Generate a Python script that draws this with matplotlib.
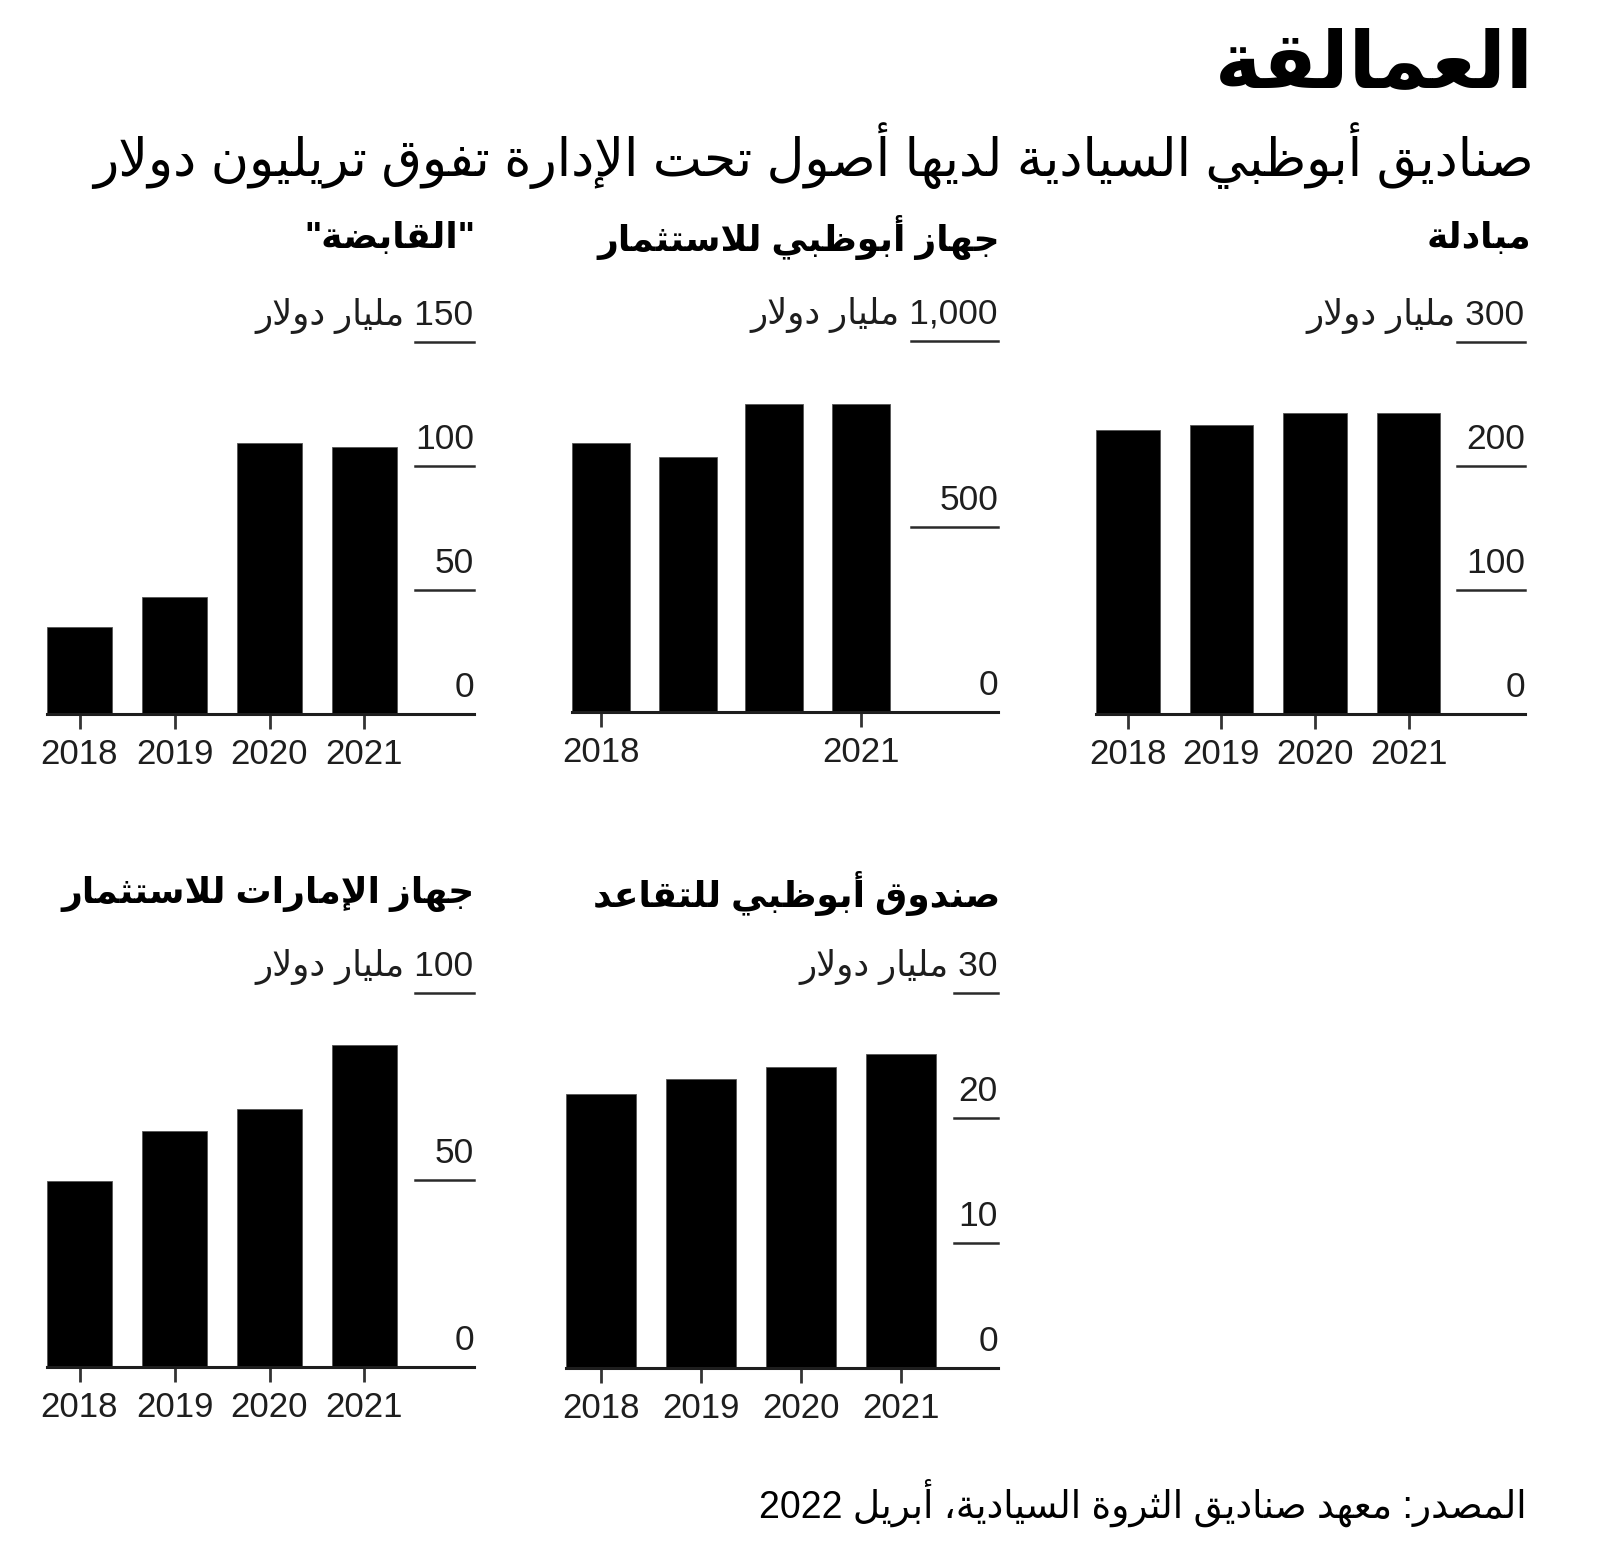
import re
import matplotlib
matplotlib.use("Agg")
import matplotlib.pyplot as plt

plt.rcParams['font.family'] = ['Liberation Sans', 'DejaVu Sans']

# --- data ---
years = ["2018", "2019", "2020", "2021"]

mubadala = [229, 233, 243, 243]
adia = [724, 686, 829, 829]
adq = [35.2, 47.3, 109.2, 107.6]
eia = [49.8, 63.2, 69.0, 86.1]
adpf = [21.9, 23.1, 24.1, 25.1]

mubadala_ticks = [0, 100, 200, 300]
adia_ticks = [0, 500, 1000]
adq_ticks = [0, 50, 100, 150]
eia_ticks = [0, 50, 100]
adpf_ticks = [0, 10, 20, 30]

title = "العمالقة"
subtitle = "صناديق أبوظبي السيادية لديها أصول تحت الإدارة تفوق تريليون دولار"
unit = "مليار دولار"
source = "المصدر: معهد صناديق الثروة السيادية، أبريل 2022"
names = ["مبادلة", "جهاز أبوظبي للاستثمار", "\"القابضة\"",
         "صندوق أبوظبي للتقاعد", "جهاز الإمارات للاستثمار"]

# --- minimal arabic shaping (matplotlib has no complex text layout) ---
AR_CHARS = "ءآأؤإئابةتثجحخدذرزسشصضطظعغفقكلمنهوىي"
AR_NFORMS = [1, 2, 2, 2, 2, 4, 2, 4, 2, 4, 4, 4, 4, 4, 2, 2, 2, 2, 4, 4,
             4, 4, 4, 4, 4, 4, 4, 4, 4, 4, 4, 4, 4, 2, 2, 4]
AR_FORMS = {}
code = 0xFE80
for ch, n in zip(AR_CHARS, AR_NFORMS):
    AR_FORMS[ch] = [chr(code + k) for k in range(n)]
    code += n
LAM_ALEF = {"آ": 0xFEF5, "أ": 0xFEF7, "إ": 0xFEF9, "ا": 0xFEFB}


def shape(text):
    units = []
    i = 0
    while i < len(text):
        ch = text[i]
        if ch == "ل" and i + 1 < len(text) and text[i + 1] in LAM_ALEF:
            c = LAM_ALEF[text[i + 1]]
            units.append([chr(c), chr(c + 1)])
            i += 2
        else:
            units.append(AR_FORMS.get(ch, ch))
            i += 1
    out = []
    for k, u in enumerate(units):
        if isinstance(u, str):
            out.append(u)
            continue
        prev = units[k - 1] if k > 0 else None
        nxt = units[k + 1] if k + 1 < len(units) else None
        join_prev = isinstance(prev, list) and len(prev) == 4
        join_next = len(u) == 4 and isinstance(nxt, list) and len(nxt) > 1
        if join_prev and join_next:
            f = 3
        elif join_prev:
            f = 1
        elif join_next:
            f = 2
        else:
            f = 0
        out.append(u[min(f, len(u) - 1)])
    return "".join(out)


def ar(text):
    s = shape(text)
    runs = re.findall(r"[0-9A-Za-z.,]+|[^0-9A-Za-z.,]+", s)
    return "".join(r if re.match(r"[0-9A-Za-z.,]", r) else r[::-1] for r in reversed(runs))


# --- layout (pixels) ---
W, H = 1600, 1564
fig = plt.figure(figsize=(W / 100, H / 100), dpi=100)
fig.patch.set_facecolor("white")

panels = [
    # values, ticks, name, left, right, top, bottom, pitch, width, tick_start, shown years, title_y, title_x
    (mubadala, mubadala_ticks, names[0], 1096, 1525, 342, 714, 93.6, 63.5, 1457, [0, 1, 2, 3], 238, 1531),
    (adia, adia_ticks, names[1], 572, 998, 341, 712, 86.7, 58.0, 911, [0, 3], 238, 1000),
    (adq, adq_ticks, names[2], 47, 474, 342, 714, 95.0, 65.0, 415, [0, 1, 2, 3], 238, 475),
    (adpf, adpf_ticks, names[3], 566, 998, 993, 1368, 100.0, 69.5, 954, [0, 1, 2, 3], 894, 1000),
    (eia, eia_ticks, names[4], 47, 474, 993, 1367, 95.0, 65.0, 415, [0, 1, 2, 3], 894, 475),
]

ink = "#1e1e1e"
for vals, ticks, name, l, r, t, b, pitch, bw, ts, shown, ty, tx in panels:
    ax = fig.add_axes([l / W, 1 - b / H, (r - l) / W, (b - t) / H])
    x0 = -(bw / 2) / pitch
    ax.set_xlim(x0, x0 + (r - l) / pitch)
    ax.set_ylim(0, ticks[-1])
    ax.bar(range(len(years)), vals, width=bw / pitch, color="black", edgecolor="#555555", linewidth=0.6)
    for s in ["top", "right", "left"]:
        ax.spines[s].set_visible(False)
    ax.spines["bottom"].set_linewidth(2.2)
    ax.spines["bottom"].set_color(ink)
    ax.set_yticks([])
    ax.set_xticks(shown, [years[i] for i in shown])
    ax.tick_params(axis="x", length=11, width=2, color="#333333", pad=6,
                   labelsize=25, labelcolor=ink)
    frac = (ts - l) / (r - l)
    for tv in ticks:
        lab = f"{tv:,}"
        if tv > 0:
            ax.plot([frac, 1], [tv, tv], color="#2a2a2a", lw=1.8,
                    transform=ax.get_yaxis_transform(), clip_on=False)
        if tv == ticks[-1]:
            lab = ar(f"{lab} {unit}")
        ax.annotate(lab, xy=(1, tv), xycoords=ax.get_yaxis_transform(),
                    xytext=(0, 17), textcoords="offset pixels",
                    ha="right", va="baseline", fontsize=25.5, color=ink)
    fig.text(tx / W, 1 - ty / H, ar(name), ha="right", va="center",
             fontsize=26, fontweight="bold", color="black")

fig.text(1534 / W, 1 - 67 / H, ar(title), ha="right", va="center",
         fontsize=57, fontweight="bold", color="black")
fig.text(1534 / W, 1 - 156 / H, ar(subtitle), ha="right", va="center",
         fontsize=37.5, color="black")
fig.text(1527 / W, 1 - 1503 / H, ar(source), ha="right", va="center",
         fontsize=27, color="black")

fig.savefig("out.png", dpi=100, facecolor="white")
